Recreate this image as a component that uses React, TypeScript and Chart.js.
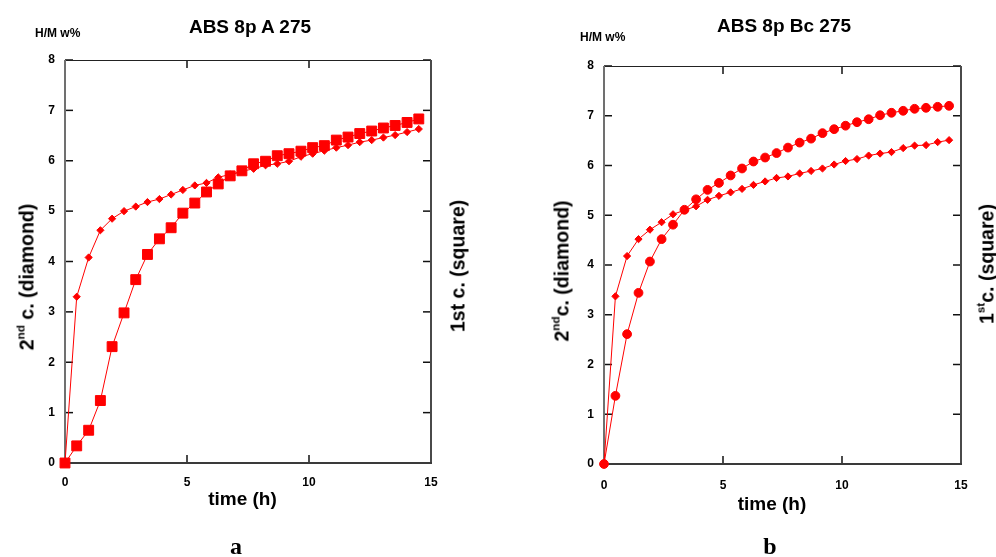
import React, { useEffect, useRef } from "react";
import { Chart, registerables } from "chart.js";

Chart.register(...registerables);

// ---------- data ----------
const hours = [
  0, 0.48, 0.97, 1.45, 1.93, 2.42, 2.9, 3.38, 3.87, 4.35, 4.83, 5.32, 5.8, 6.28, 6.77, 7.25,
  7.73, 8.22, 8.7, 9.18, 9.67, 10.15, 10.63, 11.12, 11.6, 12.08, 12.57, 13.05, 13.53, 14.02, 14.5,
];

const panelADiamond = [
  0, 3.3, 4.08, 4.62, 4.85, 5.0, 5.09, 5.18, 5.24, 5.33, 5.42, 5.51, 5.56, 5.67, 5.73, 5.79,
  5.84, 5.91, 5.94, 5.99, 6.08, 6.14, 6.2, 6.26, 6.31, 6.37, 6.41, 6.46, 6.51, 6.57, 6.63,
];

const panelASquare = [
  0, 0.34, 0.65, 1.24, 2.31, 2.98, 3.64, 4.14, 4.45, 4.67, 4.96, 5.16, 5.38, 5.54, 5.7, 5.8,
  5.94, 5.99, 6.1, 6.14, 6.19, 6.26, 6.3, 6.41, 6.47, 6.54, 6.59, 6.65, 6.7, 6.76, 6.83,
];

const panelBDiamond = [
  0, 3.37, 4.18, 4.52, 4.71, 4.86, 5.02, 5.1, 5.18, 5.31, 5.39, 5.46, 5.53, 5.61, 5.68, 5.75,
  5.78, 5.84, 5.89, 5.94, 6.02, 6.09, 6.13, 6.2, 6.24, 6.27, 6.35, 6.4, 6.41, 6.47, 6.51,
];

const panelBCircle = [
  0, 1.37, 2.61, 3.44, 4.07, 4.52, 4.81, 5.11, 5.32, 5.51, 5.65, 5.8, 5.94, 6.08, 6.16, 6.25,
  6.36, 6.46, 6.54, 6.65, 6.73, 6.8, 6.87, 6.93, 7.01, 7.06, 7.1, 7.14, 7.16, 7.18, 7.2,
];

const xTickValues = [0, 5, 10, 15];
const yTickValues = [0, 1, 2, 3, 4, 5, 6, 7, 8];

const RED = "#ff0000";
const FONT = "'Liberation Sans', Arial, Helvetica, sans-serif";

type PanelProps = {
  left: number;
  width: number;
  series: { values: number[]; style: string; radius: number }[];
  area: { left: number; right: number; top: number; bottom: number };
  xLabelPad: number;
  yLabelPad: number;
};

const framePlugin = {
  id: "frameTicks",
  beforeDatasetsDraw(chart: any) {
    const { ctx, chartArea, scales } = chart;
    const { left, right, top, bottom } = chartArea;
    const x = scales.x;
    const y = scales.y;
    const line = (x1: number, y1: number, x2: number, y2: number) => {
      ctx.beginPath();
      ctx.moveTo(x1, y1);
      ctx.lineTo(x2, y2);
      ctx.stroke();
    };
    ctx.save();
    ctx.strokeStyle = "#111";
    ctx.lineWidth = 1.5;
    const tl = 8;
    xTickValues.forEach((v) => {
      const px = x.getPixelForValue(v);
      line(px, bottom, px, bottom - tl);
      line(px, top, px, top + tl);
    });
    yTickValues.forEach((v) => {
      const py = y.getPixelForValue(v);
      line(left, py, left + tl, py);
      line(right, py, right - tl, py);
    });
    ctx.lineWidth = 1;
    ctx.strokeStyle = "#222";
    line(left, top + 0.5, right + 1, top + 0.5);
    ctx.lineWidth = 2;
    ctx.strokeStyle = "#4a4a4a";
    line(right, top, right, bottom);
    ctx.strokeStyle = "#707070";
    line(left, top, left, bottom + 1);
    ctx.strokeStyle = "#3a3a3a";
    line(left, bottom, right + 1, bottom);
    ctx.restore();
  },
};

function Panel({ left, width, series, area, xLabelPad, yLabelPad }: PanelProps) {
  const ref = useRef<HTMLCanvasElement | null>(null);
  useEffect(() => {
    if (!ref.current) return;
    const height = 557;
    const datasets = series.map((s) => ({
      data: hours.map((h, i) => ({ x: h, y: s.values[i] })),
      borderColor: RED,
      backgroundColor: RED,
      borderWidth: 1,
      pointStyle: s.style,
      pointRadius: s.radius,
      pointBorderWidth: 1,
      pointBackgroundColor: RED,
      pointBorderColor: RED,
      tension: 0,
      fill: false,
      clip: false as any,
    }));
    const chart = new Chart(ref.current, {
      type: "line",
      data: { datasets },
      plugins: [framePlugin],
      options: {
        animation: false,
        responsive: false,
        devicePixelRatio: 1,
        layout: {
          padding: { top: area.top, right: width - area.right, left: 0, bottom: 0 },
        },
        plugins: { legend: { display: false }, tooltip: { enabled: false }, title: { display: false } },
        scales: {
          x: {
            type: "linear",
            min: 0,
            max: 15,
            grid: { display: false, drawTicks: false },
            border: { display: false },
            afterBuildTicks: (s: any) => {
              s.ticks = xTickValues.map((v) => ({ value: v }));
            },
            afterFit: (s: any) => {
              s.height = height - area.bottom;
            },
            ticks: {
              color: "#000",
              padding: xLabelPad,
              maxRotation: 0,
              font: { family: FONT, size: 12, weight: "bold" },
            },
          },
          y: {
            type: "linear",
            min: 0,
            max: 8,
            grid: { display: false, drawTicks: false },
            border: { display: false },
            afterBuildTicks: (s: any) => {
              s.ticks = yTickValues.map((v) => ({ value: v }));
            },
            afterFit: (s: any) => {
              s.width = area.left;
            },
            ticks: {
              color: "#000",
              padding: yLabelPad,
              font: { family: FONT, size: 12, weight: "bold" },
            },
          },
        },
      } as any,
    });
    return () => chart.destroy();
  }, []);
  return (
    <canvas
      ref={ref}
      width={width}
      height={557}
      style={{ position: "absolute", left, top: 0, width, height: 557 }}
    />
  );
}

const textBase: React.CSSProperties = {
  position: "absolute",
  fontFamily: FONT,
  fontWeight: "bold",
  color: "#000",
  whiteSpace: "nowrap",
  lineHeight: "normal",
};

function Sup({ children }: { children: React.ReactNode }) {
  return (
    <span style={{ fontSize: "0.6em", position: "relative", top: "-0.75em", lineHeight: 0 }}>
      {children}
    </span>
  );
}

function Rotated({ cx, cy, size, children }: { cx: number; cy: number; size: number; children: React.ReactNode }) {
  return (
    <div
      style={{
        ...textBase,
        fontSize: size,
        left: cx,
        top: cy,
        transform: "translate(-50%, -50%) rotate(-90deg)",
      }}
    >
      {children}
    </div>
  );
}

function Centered({ cx, top, size, children, serif }: { cx: number; top: number; size: number; children: React.ReactNode; serif?: boolean }) {
  return (
    <div
      style={{
        ...textBase,
        fontSize: size,
        left: cx,
        top,
        transform: "translateX(-50%)",
        fontFamily: serif ? "'Liberation Serif', 'Times New Roman', serif" : FONT,
      }}
    >
      {children}
    </div>
  );
}

export default function App() {
  return (
    <div
      style={{
        position: "absolute",
        left: 0,
        top: 0,
        width: 996,
        height: 557,
        background: "#fff",
        overflow: "hidden",
      }}
    >
      <Panel
        left={0}
        width={498}
        area={{ left: 65, right: 431, top: 60, bottom: 463 }}
        xLabelPad={12}
        yLabelPad={10}
        series={[
          { values: panelASquare, style: "rect", radius: 7 },
          { values: panelADiamond, style: "rectRot", radius: 3.6 },
        ]}
      />
      <Panel
        left={498}
        width={498}
        area={{ left: 106, right: 463, top: 66, bottom: 464 }}
        xLabelPad={14}
        yLabelPad={10}
        series={[
          { values: panelBCircle, style: "circle", radius: 4.4 },
          { values: panelBDiamond, style: "rectRot", radius: 3.6 },
        ]}
      />

      {/* panel a texts */}
      <Centered cx={250} top={16} size={19}>ABS 8p A 275</Centered>
      <div style={{ ...textBase, fontSize: 12, left: 35, top: 25.5 }}>H/M w%</div>
      <Centered cx={242.5} top={488} size={19}>time (h)</Centered>
      <Rotated cx={26.5} cy={276.5} size={19.5}>
        2<Sup>nd</Sup> c. (diamond)
      </Rotated>
      <Rotated cx={457.5} cy={266} size={19.5}>
        1st c. (square)
      </Rotated>
      <Centered cx={236} top={533} size={24} serif>a</Centered>

      {/* panel b texts */}
      <Centered cx={784} top={15} size={19}>ABS 8p Bc 275</Centered>
      <div style={{ ...textBase, fontSize: 12, left: 580, top: 29.5 }}>H/M w%</div>
      <Centered cx={772} top={493} size={19}>time (h)</Centered>
      <Rotated cx={561.5} cy={271} size={19.5}>
        2<Sup>nd</Sup>c. (diamond)
      </Rotated>
      <Rotated cx={986.5} cy={264} size={19.5}>
        1<Sup>st</Sup>c. (square)
      </Rotated>
      <Centered cx={770} top={533} size={24} serif>b</Centered>
    </div>
  );
}
